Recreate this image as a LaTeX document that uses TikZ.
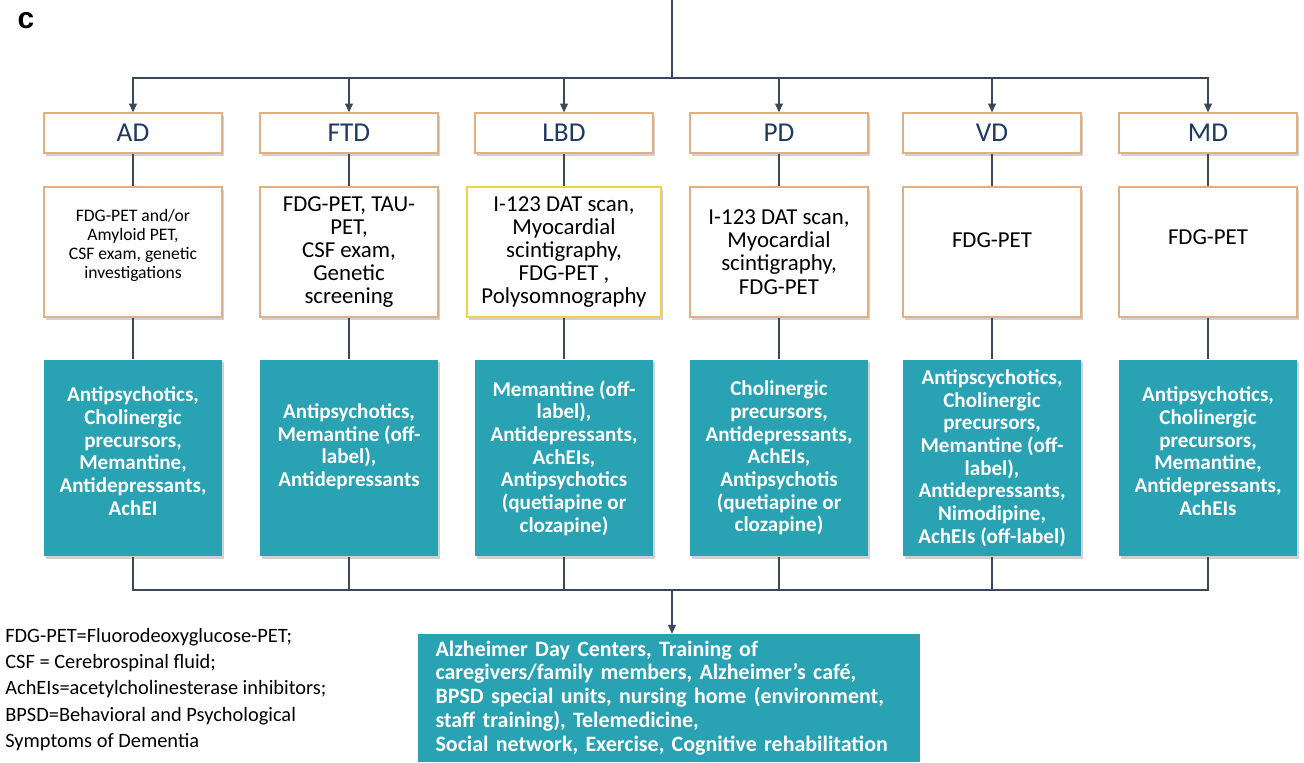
\documentclass[tikz,border=0pt]{standalone}
\usepackage{fontspec}
\setmainfont{Carlito}
\newfontfamily\panelfont{Liberation Sans}
\usetikzlibrary{arrows.meta, positioning, shadows}

\definecolor{tealbox}{RGB}{41,162,179}
\definecolor{headblue}{RGB}{31,56,100}
\definecolor{tanline}{RGB}{226,176,128}
\definecolor{linkgray}{RGB}{58,72,94}
\definecolor{lbdyellow}{RGB}{236,212,70}

\begin{document}
\begin{tikzpicture}[x=0.02cm, y=-0.02cm,
    softshadow/.style={drop shadow={shadow xshift=1pt, shadow yshift=-1.5pt,
                       opacity=0.3, fill=black!60}},
    head/.style={draw=tanline, fill=white, line width=0.8pt, softshadow,
                 minimum width=3.56cm, minimum height=0.8cm, inner sep=1pt,
                 text=headblue, font=\fontsize{15.5}{16}\selectfont},
    exam/.style={draw=tanline, fill=white, line width=0.8pt, softshadow,
                 minimum width=3.56cm, minimum height=2.6cm, inner sep=2pt,
                 align=center, font=\fontsize{13}{13.2}\selectfont},
    drug/.style={fill=tealbox, text=white, softshadow,
                 minimum width=3.56cm, minimum height=3.94cm, inner sep=2pt,
                 align=center, font=\bfseries\fontsize{12}{12.9}\selectfont},
    link/.style={draw=linkgray, line width=1.6pt},
    bus/.style={draw=linkgray, line width=0.6pt},
    feed/.style={bus, -{Triangle[width=4.5pt, length=5pt]}}
  ]
  \useasboundingbox (0,0) rectangle (1304,762);

  \node[font=\panelfont\bfseries\fontsize{17}{17}\selectfont] (panel) at (26,21) {c};

  % disease headers
  \node[head] (ad)  at (133,133)  {AD};
  \node[head] (ftd) at (349,133)  {FTD};
  \node[head] (lbd) at (564,133)  {LBD};
  \node[head] (pd)  at (779,133)  {PD};
  \node[head] (vd)  at (992,133)  {VD};
  \node[head] (md)  at (1208,133) {MD};

  % diagnostic work-up
  \node[exam, font=\fontsize{10}{10.8}\selectfont] (adx) at (133,252)
    {FDG-PET and/or\\Amyloid PET,\\CSF exam, genetic\\investigations\\[-2pt]};
  \node[exam] (ftdx) at (349,252)
    {FDG-PET, TAU-\\PET,\\CSF exam,\\Genetic\\screening};
  \node[exam, draw=lbdyellow, minimum width=3.88cm] (lbdx) at (564,252)
    {I-123 DAT scan,\\Myocardial\\scintigraphy,\\FDG-PET ,\\Polysomnography};
  \node[exam] (pdx) at (779,252)
    {I-123 DAT scan,\\Myocardial\\scintigraphy,\\FDG-PET};
  \node[exam] (vdx) at (992,252) {FDG-PET\\[0pt]};
  \node[exam] (mdx) at (1208,252) {FDG-PET\\[4pt]};

  % treatments
  \node[drug] (adt) at (133,458)
    {Antipsychotics,\\Cholinergic\\precursors,\\Memantine,\\Antidepressants,\\AchEI\\[-5pt]};
  \node[drug] (ftdt) at (349,458)
    {Antipsychotics,\\Memantine (off-\\label),\\Antidepressants\\[2pt]};
  \node[drug] (lbdt) at (564,458)
    {Memantine (off-\\label),\\Antidepressants,\\AchEIs,\\Antipsychotics\\(quetiapine or\\clozapine)};
  \node[drug] (pdt) at (779,458)
    {Cholinergic\\precursors,\\Antidepressants,\\AchEIs,\\Antipsychotis\\(quetiapine or\\clozapine)};
  \node[drug] (vdt) at (992,458)
    {Antipscychotics,\\Cholinergic\\precursors,\\Memantine (off-\\label),\\Antidepressants,\\Nimodipine,\\AchEIs (off-label)};
  \node[drug] (mdt) at (1208,458)
    {Antipsychotics,\\Cholinergic\\precursors,\\Memantine,\\Antidepressants,\\AchEIs\\[-5pt]};

  % common care
  \node[fill=tealbox, text=white, minimum width=10.04cm, minimum height=2.56cm,
        text width=9.34cm, inner xsep=0.35cm, align=left,
        font=\bfseries\fontsize{12.5}{13.6}\selectfont] (care) at (669,698)
    {Alzheimer Day Centers, Training of\\
     caregivers/family members, Alzheimer's café,\\
     BPSD special units, nursing home (environment,\\
     staff training), Telemedicine,\\
     Social network, Exercise, Cognitive rehabilitation};

  \node[anchor=north west, inner sep=0pt, align=left,
        font=\fontsize{11.6}{14.9}\selectfont] (abbrev) at (5,628)
    {FDG-PET=Fluorodeoxyglucose-PET;\\
     CSF = Cerebrospinal fluid;\\
     AchEIs=acetylcholinesterase inhibitors;\\
     BPSD=Behavioral and Psychological\\
     Symptoms of Dementia};

  % connectors
  \coordinate (top) at (672,0);
  \coordinate (split) at (672,78);
  \coordinate (join) at (672,590);
  \draw[bus] (top) -- (split);
  \draw[feed] (split) -| (ad);
  \draw[feed] (split) -| (ftd);
  \draw[feed] (split) -| (lbd);
  \draw[feed] (split) -| (pd);
  \draw[feed] (split) -| (vd);
  \draw[feed] (split) -| (md);

  \draw[link] (ad) -- (adx);
  \draw[link] (ftd) -- (ftdx);
  \draw[link] (lbd) -- (lbdx);
  \draw[link] (pd) -- (pdx);
  \draw[link] (vd) -- (vdx);
  \draw[link] (md) -- (mdx);

  \draw[link] (adx) -- (adt);
  \draw[link] (ftdx) -- (ftdt);
  \draw[link] (lbdx) -- (lbdt);
  \draw[link] (pdx) -- (pdt);
  \draw[link] (vdx) -- (vdt);
  \draw[link] (mdx) -- (mdt);

  \draw[bus] (adt) |- (join);
  \draw[bus] (ftdt) |- (join);
  \draw[bus] (lbdt) |- (join);
  \draw[bus] (pdt) |- (join);
  \draw[bus] (vdt) |- (join);
  \draw[bus] (mdt) |- (join);
  \draw[feed] (join) -- (join |- care.north);
\end{tikzpicture}
\end{document}
